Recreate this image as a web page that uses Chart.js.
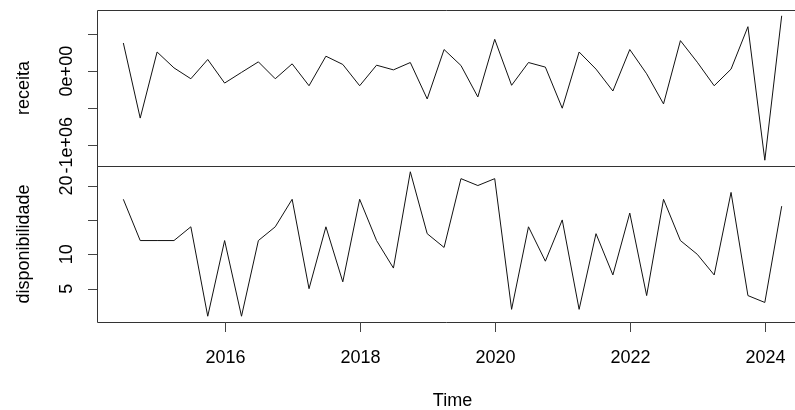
<!DOCTYPE html>
<html>
<head>
<meta charset="utf-8">
<script src="https://cdn.jsdelivr.net/npm/chart.js"></script>
<style>
  body { margin: 0; background: #fff; }
  #wrap { position: relative; width: 795px; height: 410px; }
  #wrap canvas { position: absolute; left: 0; top: 0; }
</style>
</head>
<body>
<div id="wrap">
  <canvas id="topChart" width="795" height="410"></canvas>
  <canvas id="bottomChart" width="795" height="410"></canvas>
</div>
<script>
// quarterly time index (ts starting 2014 Q3)
const times = [
  2014.5, 2014.75, 2015, 2015.25, 2015.5, 2015.75, 2016, 2016.25, 2016.5, 2016.75,
  2017, 2017.25, 2017.5, 2017.75, 2018, 2018.25, 2018.5, 2018.75, 2019, 2019.25,
  2019.5, 2019.75, 2020, 2020.25, 2020.5, 2020.75, 2021, 2021.25, 2021.5, 2021.75,
  2022, 2022.25, 2022.5, 2022.75, 2023, 2023.25, 2023.5, 2023.75, 2024, 2024.25
];

const receita = [
  379000, -633000, 258000, 44000, -103000, 157000, -161000, -17000, 125000, -103000,
  98000, -197000, 201000, 90000, -197000, 80000, 17000, 116000, -375000, 291000,
  76000, -348000, 429000, -191000, 116000, 54000, -500000, 258000, 27000, -268000,
  291000, -36000, -442000, 411000, 120000, -197000, 27000, 599000, -1201000, 746000
];

const disponibilidade = [
  18, 12, 12, 12, 14, 1, 12, 1, 12, 14,
  18, 5, 14, 6, 18, 12, 8, 22, 13, 11,
  21, 20, 21, 2, 14, 9, 15, 2, 13, 7,
  16, 4, 18, 12, 10, 7, 19, 4, 3, 17
];

const yearTicks = [2016, 2018, 2020, 2022, 2024];
const receitaTicks = [-1000000, -500000, 0, 500000];
const receitaTickLabels = ['-1e+06', '', '0e+00', ''];
const dispTicks = [5, 10, 15, 20];
const dispTickLabels = ['5', '10', '', '20'];

// axis limits (R style: data range + 4%)
const xMin = 2014.11, xMax = 2024.447, xMaxFull = 2024.64;
const receitaMin = -1279000, receitaMax = 824000;
const dispMin = 0.16, dispMax = 22.84;

const FONT = '18px "Liberation Sans", Arial, sans-serif';
const INK = '#000';
const BOX = '#333';

function pts(vals) {
  return times.map((t, i) => ({ x: t, y: vals[i] }));
}

function yAxisPlugin(ticks, labels, title, drawXAxis) {
  return {
    id: 'rAxes',
    afterDraw(chart) {
      const c = chart.ctx;
      const a = chart.chartArea;
      const ys = chart.scales.y;
      const xs = chart.scales.x;
      c.save();
      c.strokeStyle = BOX;
      c.lineWidth = 1;
      // panel box (top, left, bottom)
      c.beginPath();
      c.moveTo(795, Math.round(a.top) + 0.5);
      c.lineTo(Math.round(a.left) + 0.5, Math.round(a.top) + 0.5);
      c.lineTo(Math.round(a.left) + 0.5, Math.round(a.bottom) + 0.5);
      c.lineTo(795, Math.round(a.bottom) + 0.5);
      c.stroke();
      // y ticks
      c.strokeStyle = '#444';
      ticks.forEach(v => {
        const y = Math.round(ys.getPixelForValue(v)) + 0.5;
        c.beginPath();
        c.moveTo(a.left - 9, y);
        c.lineTo(a.left, y);
        c.stroke();
      });
      c.fillStyle = INK;
      c.font = FONT;
      c.textAlign = 'center';
      c.textBaseline = 'alphabetic';
      ticks.forEach((v, i) => {
        if (!labels[i]) return;
        const y = ys.getPixelForValue(v);
        c.save();
        c.translate(72, y);
        c.rotate(-Math.PI / 2);
        c.fillText(labels[i], 0, 0);
        c.restore();
      });
      // axis title
      c.save();
      c.translate(29, (a.top + a.bottom) / 2);
      c.rotate(-Math.PI / 2);
      c.fillText(title, 0, 0);
      c.restore();

      if (drawXAxis) {
        c.strokeStyle = '#444';
        yearTicks.forEach(yr => {
          const x = Math.round(xs.getPixelForValue(yr)) + 0.5;
          c.beginPath();
          c.moveTo(x, a.bottom);
          c.lineTo(x, a.bottom + 10);
          c.stroke();
          c.fillText(String(yr), x, 363);
        });
        const mid = xs.getPixelForValue((xMin + xMaxFull) / 2);
        c.fillText('Time', mid, 406);
      }
      c.restore();
    }
  };
}

function makeChart(id, vals, yMin, yMax, pad, plugin) {
  return new Chart(document.getElementById(id), {
    type: 'line',
    data: {
      datasets: [{
        data: pts(vals),
        borderColor: '#111',
        borderWidth: 1,
        pointRadius: 0,
        tension: 0,
        fill: false
      }]
    },
    options: {
      responsive: false,
      animation: false,
      events: [],
      layout: { padding: pad },
      plugins: { legend: { display: false }, tooltip: { enabled: false } },
      scales: {
        x: { type: 'linear', min: xMin, max: xMax, display: false },
        y: { min: yMin, max: yMax, display: false }
      }
    },
    plugins: [plugin]
  });
}

makeChart('topChart', receita, receitaMin, receitaMax,
  { left: 97, top: 10, right: 0, bottom: 244 },
  yAxisPlugin(receitaTicks, receitaTickLabels, 'receita', false));

makeChart('bottomChart', disponibilidade, dispMin, dispMax,
  { left: 97, top: 166, right: 0, bottom: 88 },
  yAxisPlugin(dispTicks, dispTickLabels, 'disponibilidade', true));
</script>
</body>
</html>
